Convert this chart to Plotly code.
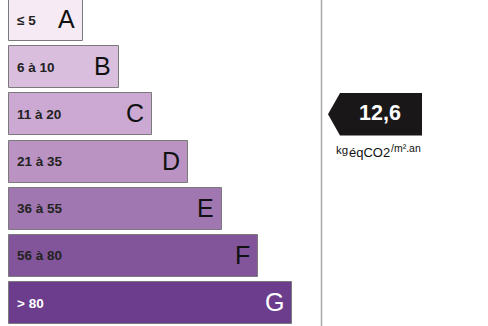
import plotly.graph_objects as go

classes = ["A", "B", "C", "D", "E", "F", "G"]
ranges = ["≤ 5", "6 à 10", "11 à 20", "21 à 35", "36 à 55", "56 à 80", "> 80"]
upper_bounds = [5, 10, 20, 35, 55, 80, float("inf")]
bar_lengths = [74, 110, 143, 179, 213, 249, 283]
bar_colors = ["#f6eaf4", "#d9bedd", "#cba9d2", "#ba93c2", "#a077b0", "#82559a", "#6b3d8c"]
text_colors = ["#222222"] * 6 + ["#ffffff"]
value = 12.6
value_label = "12,6"
unit_main = "kg"
unit_sub = "éqCO2"
unit_sup = "/m².an"

FONT = "Liberation Sans, Arial, Helvetica"
idx = list(range(len(classes)))
fig = go.Figure()
fig.add_trace(go.Bar(
    orientation="h", y=idx, x=bar_lengths, width=0.89,
    marker=dict(color=bar_colors, line=dict(color="#7a7a7a", width=1)),
    hoverinfo="skip", showlegend=False,
))

annotations = []
for i, (c, r, L, tc) in enumerate(zip(classes, ranges, bar_lengths, text_colors)):
    annotations.append(dict(x=0, y=i, text=r, xanchor="left", yanchor="middle", xshift=6,
                            showarrow=False, font=dict(family=FONT, size=13.5, color=tc, weight="bold")))
    annotations.append(dict(x=L, y=i, text=c, xanchor="right", yanchor="middle", xshift=-6, yshift=1,
                            showarrow=False, font=dict(family=FONT, size=25,
                                                       color="#111111" if i < 6 else "#ffffff")))

# class of the value
cls = next(i for i, ub in enumerate(upper_bounds) if value <= ub)
# arrow geometry (layout, in x-axis units; x-axis 0 at bar start)
tip_x, body_x0, body_x1 = 319, 331, 413
h = 0.45
fig.add_trace(go.Scatter(
    x=[tip_x, body_x0, body_x1, body_x1, body_x0, tip_x],
    y=[cls, cls - h, cls - h, cls + h, cls + h, cls],
    fill="toself", fillcolor="#1a1718", mode="lines", line=dict(width=0, color="#1a1718"),
    hoverinfo="skip", showlegend=False,
))
annotations.append(dict(x=(body_x0 + body_x1) / 2 - 1, y=cls, text=value_label, showarrow=False,
                        xanchor="center", yanchor="middle", yshift=1,
                        font=dict(family=FONT, size=21.5, color="#ffffff", weight="bold")))
# unit label in three pieces: main, subscript, superscript
unit_parts = [(unit_main, 326, 11.5, -7.5), (unit_sub, 339, 13, -8), (unit_sup, 381, 10.5, -5)]
for txt, ux, fs, ys in unit_parts:
    annotations.append(dict(x=ux, y=cls + h, text=txt, showarrow=False, xanchor="left", yanchor="top",
                            yshift=ys, borderpad=0, font=dict(family=FONT, size=fs, color="#111111")))

fig.update_layout(
    width=488, height=326, margin=dict(l=0, r=0, t=0, b=0),
    paper_bgcolor="white", plot_bgcolor="white",
    xaxis=dict(range=[-9, 479], visible=False, fixedrange=True),
    yaxis=dict(range=[6.487, -0.424], visible=False, fixedrange=True),
    annotations=annotations,
    shapes=[dict(type="line", xref="x", yref="paper", x0=312.5, x1=312.5, y0=0, y1=1,
                 line=dict(color="#a8a8a8", width=1.5))],
    bargap=0,
)
fig.write_html("out.html", config=dict(displayModeBar=False),
               post_script="document.body.style.margin='0px';document.body.style.overflow='hidden';")
